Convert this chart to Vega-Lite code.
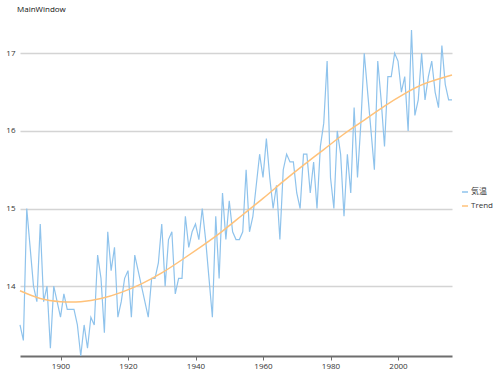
{
  "$schema": "https://vega.github.io/schema/vega-lite/v6.json",
  "width": 432,
  "height": 326,
  "autosize": {"type": "none"},
  "padding": {"left": 20, "top": 30, "right": 48, "bottom": 21},
  "background": "white",
  "title": {
    "text": "MainWindow",
    "anchor": "start",
    "frame": "group",
    "offset": 14,
    "dx": -3,
    "fontSize": 8,
    "fontWeight": "normal",
    "font": "Segoe UI, Open Sans, sans-serif",
    "color": "#111111"
  },
  "config": {
    "view": {"stroke": null},
    "font": "Segoe UI, Open Sans, Noto Sans CJK JP, sans-serif"
  },
  "datasets": {
    "temp": [
      {"year": 1888, "value": 13.5, "series": "気温"},
      {"year": 1889, "value": 13.3, "series": "気温"},
      {"year": 1890, "value": 15.0, "series": "気温"},
      {"year": 1891, "value": 14.5, "series": "気温"},
      {"year": 1892, "value": 14.0, "series": "気温"},
      {"year": 1893, "value": 13.8, "series": "気温"},
      {"year": 1894, "value": 14.8, "series": "気温"},
      {"year": 1895, "value": 13.8, "series": "気温"},
      {"year": 1896, "value": 14.0, "series": "気温"},
      {"year": 1897, "value": 13.2, "series": "気温"},
      {"year": 1898, "value": 14.0, "series": "気温"},
      {"year": 1899, "value": 13.8, "series": "気温"},
      {"year": 1900, "value": 13.6, "series": "気温"},
      {"year": 1901, "value": 13.9, "series": "気温"},
      {"year": 1902, "value": 13.7, "series": "気温"},
      {"year": 1903, "value": 13.7, "series": "気温"},
      {"year": 1904, "value": 13.7, "series": "気温"},
      {"year": 1905, "value": 13.5, "series": "気温"},
      {"year": 1906, "value": 13.1, "series": "気温"},
      {"year": 1907, "value": 13.5, "series": "気温"},
      {"year": 1908, "value": 13.2, "series": "気温"},
      {"year": 1909, "value": 13.6, "series": "気温"},
      {"year": 1910, "value": 13.5, "series": "気温"},
      {"year": 1911, "value": 14.4, "series": "気温"},
      {"year": 1912, "value": 14.1, "series": "気温"},
      {"year": 1913, "value": 13.4, "series": "気温"},
      {"year": 1914, "value": 14.7, "series": "気温"},
      {"year": 1915, "value": 14.2, "series": "気温"},
      {"year": 1916, "value": 14.5, "series": "気温"},
      {"year": 1917, "value": 13.6, "series": "気温"},
      {"year": 1918, "value": 13.8, "series": "気温"},
      {"year": 1919, "value": 14.1, "series": "気温"},
      {"year": 1920, "value": 14.2, "series": "気温"},
      {"year": 1921, "value": 13.6, "series": "気温"},
      {"year": 1922, "value": 14.4, "series": "気温"},
      {"year": 1923, "value": 14.2, "series": "気温"},
      {"year": 1924, "value": 14.0, "series": "気温"},
      {"year": 1925, "value": 13.8, "series": "気温"},
      {"year": 1926, "value": 13.6, "series": "気温"},
      {"year": 1927, "value": 14.1, "series": "気温"},
      {"year": 1928, "value": 14.1, "series": "気温"},
      {"year": 1929, "value": 14.3, "series": "気温"},
      {"year": 1930, "value": 14.8, "series": "気温"},
      {"year": 1931, "value": 14.0, "series": "気温"},
      {"year": 1932, "value": 14.6, "series": "気温"},
      {"year": 1933, "value": 14.7, "series": "気温"},
      {"year": 1934, "value": 13.9, "series": "気温"},
      {"year": 1935, "value": 14.1, "series": "気温"},
      {"year": 1936, "value": 14.1, "series": "気温"},
      {"year": 1937, "value": 14.9, "series": "気温"},
      {"year": 1938, "value": 14.5, "series": "気温"},
      {"year": 1939, "value": 14.7, "series": "気温"},
      {"year": 1940, "value": 14.8, "series": "気温"},
      {"year": 1941, "value": 14.6, "series": "気温"},
      {"year": 1942, "value": 15.0, "series": "気温"},
      {"year": 1943, "value": 14.6, "series": "気温"},
      {"year": 1944, "value": 14.1, "series": "気温"},
      {"year": 1945, "value": 13.6, "series": "気温"},
      {"year": 1946, "value": 14.9, "series": "気温"},
      {"year": 1947, "value": 14.1, "series": "気温"},
      {"year": 1948, "value": 15.2, "series": "気温"},
      {"year": 1949, "value": 14.6, "series": "気温"},
      {"year": 1950, "value": 15.1, "series": "気温"},
      {"year": 1951, "value": 14.7, "series": "気温"},
      {"year": 1952, "value": 14.6, "series": "気温"},
      {"year": 1953, "value": 14.6, "series": "気温"},
      {"year": 1954, "value": 14.7, "series": "気温"},
      {"year": 1955, "value": 15.5, "series": "気温"},
      {"year": 1956, "value": 14.7, "series": "気温"},
      {"year": 1957, "value": 14.9, "series": "気温"},
      {"year": 1958, "value": 15.3, "series": "気温"},
      {"year": 1959, "value": 15.7, "series": "気温"},
      {"year": 1960, "value": 15.4, "series": "気温"},
      {"year": 1961, "value": 15.9, "series": "気温"},
      {"year": 1962, "value": 15.4, "series": "気温"},
      {"year": 1963, "value": 15.0, "series": "気温"},
      {"year": 1964, "value": 15.3, "series": "気温"},
      {"year": 1965, "value": 14.6, "series": "気温"},
      {"year": 1966, "value": 15.5, "series": "気温"},
      {"year": 1967, "value": 15.7, "series": "気温"},
      {"year": 1968, "value": 15.6, "series": "気温"},
      {"year": 1969, "value": 15.6, "series": "気温"},
      {"year": 1970, "value": 15.2, "series": "気温"},
      {"year": 1971, "value": 15.0, "series": "気温"},
      {"year": 1972, "value": 15.7, "series": "気温"},
      {"year": 1973, "value": 15.7, "series": "気温"},
      {"year": 1974, "value": 15.2, "series": "気温"},
      {"year": 1975, "value": 15.6, "series": "気温"},
      {"year": 1976, "value": 15.0, "series": "気温"},
      {"year": 1977, "value": 15.8, "series": "気温"},
      {"year": 1978, "value": 16.1, "series": "気温"},
      {"year": 1979, "value": 16.9, "series": "気温"},
      {"year": 1980, "value": 15.4, "series": "気温"},
      {"year": 1981, "value": 15.0, "series": "気温"},
      {"year": 1982, "value": 16.0, "series": "気温"},
      {"year": 1983, "value": 15.7, "series": "気温"},
      {"year": 1984, "value": 14.9, "series": "気温"},
      {"year": 1985, "value": 15.7, "series": "気温"},
      {"year": 1986, "value": 15.2, "series": "気温"},
      {"year": 1987, "value": 16.3, "series": "気温"},
      {"year": 1988, "value": 15.4, "series": "気温"},
      {"year": 1989, "value": 16.1, "series": "気温"},
      {"year": 1990, "value": 17.0, "series": "気温"},
      {"year": 1991, "value": 16.5, "series": "気温"},
      {"year": 1992, "value": 16.0, "series": "気温"},
      {"year": 1993, "value": 15.5, "series": "気温"},
      {"year": 1994, "value": 16.9, "series": "気温"},
      {"year": 1995, "value": 16.4, "series": "気温"},
      {"year": 1996, "value": 15.8, "series": "気温"},
      {"year": 1997, "value": 16.7, "series": "気温"},
      {"year": 1998, "value": 16.7, "series": "気温"},
      {"year": 1999, "value": 17.0, "series": "気温"},
      {"year": 2000, "value": 16.9, "series": "気温"},
      {"year": 2001, "value": 16.5, "series": "気温"},
      {"year": 2002, "value": 16.7, "series": "気温"},
      {"year": 2003, "value": 16.0, "series": "気温"},
      {"year": 2004, "value": 17.3, "series": "気温"},
      {"year": 2005, "value": 16.2, "series": "気温"},
      {"year": 2006, "value": 16.4, "series": "気温"},
      {"year": 2007, "value": 17.0, "series": "気温"},
      {"year": 2008, "value": 16.4, "series": "気温"},
      {"year": 2009, "value": 16.7, "series": "気温"},
      {"year": 2010, "value": 16.9, "series": "気温"},
      {"year": 2011, "value": 16.5, "series": "気温"},
      {"year": 2012, "value": 16.3, "series": "気温"},
      {"year": 2013, "value": 17.1, "series": "気温"},
      {"year": 2014, "value": 16.6, "series": "気温"},
      {"year": 2015, "value": 16.4, "series": "気温"},
      {"year": 2016, "value": 16.4, "series": "気温"}
    ],
    "trend": [
      {"year": 1888, "value": 13.94, "series": "Trend"},
      {"year": 1894, "value": 13.84, "series": "Trend"},
      {"year": 1900, "value": 13.80, "series": "Trend"},
      {"year": 1906, "value": 13.80, "series": "Trend"},
      {"year": 1912, "value": 13.84, "series": "Trend"},
      {"year": 1918, "value": 13.92, "series": "Trend"},
      {"year": 1924, "value": 14.03, "series": "Trend"},
      {"year": 1930, "value": 14.17, "series": "Trend"},
      {"year": 1936, "value": 14.34, "series": "Trend"},
      {"year": 1942, "value": 14.52, "series": "Trend"},
      {"year": 1948, "value": 14.71, "series": "Trend"},
      {"year": 1954, "value": 14.92, "series": "Trend"},
      {"year": 1960, "value": 15.13, "series": "Trend"},
      {"year": 1966, "value": 15.35, "series": "Trend"},
      {"year": 1972, "value": 15.56, "series": "Trend"},
      {"year": 1978, "value": 15.76, "series": "Trend"},
      {"year": 1984, "value": 15.96, "series": "Trend"},
      {"year": 1990, "value": 16.14, "series": "Trend"},
      {"year": 1996, "value": 16.32, "series": "Trend"},
      {"year": 2002, "value": 16.48, "series": "Trend"},
      {"year": 2008, "value": 16.61, "series": "Trend"},
      {"year": 2016, "value": 16.72, "series": "Trend"}
    ]
  },
  "encoding": {
    "x": {
      "field": "year",
      "type": "quantitative",
      "scale": {"domain": [1888, 2016], "nice": false, "zero": false},
      "axis": {
        "title": null,
        "values": [1900, 1920, 1940, 1960, 1980, 2000],
        "format": "d",
        "grid": false,
        "domainColor": "#6e6e6e",
        "domainWidth": 2,
        "tickColor": "#6e6e6e",
        "tickSize": 4,
        "tickWidth": 1,
        "labelFontSize": 8,
        "labelColor": "#333333",
        "labelPadding": 2,
        "labelFont": "Segoe UI, Open Sans, sans-serif"
      }
    },
    "y": {
      "field": "value",
      "type": "quantitative",
      "scale": {"domain": [13.1, 17.3], "nice": false, "zero": false},
      "axis": {
        "title": null,
        "values": [14, 15, 16, 17],
        "domain": false,
        "ticks": false,
        "grid": true,
        "gridColor": "#d4d4d4",
        "gridWidth": 1.5,
        "labelFontSize": 8,
        "labelColor": "#333333",
        "labelPadding": 5,
        "labelFont": "Segoe UI, Open Sans, sans-serif"
      }
    },
    "color": {
      "field": "series",
      "type": "nominal",
      "scale": {"domain": ["気温", "Trend"], "range": ["#8fc3ec", "#ffc27a"]},
      "legend": {
        "title": null,
        "orient": "none",
        "legendX": 441,
        "legendY": 158,
        "symbolType": "stroke",
        "symbolSize": 36,
        "symbolStrokeWidth": 1.5,
        "labelFontSize": 8,
        "labelColor": "#333333",
        "labelOffset": 2,
        "rowPadding": 6,
        "labelFont": "Segoe UI, Open Sans, Noto Sans CJK JP, sans-serif"
      }
    }
  },
  "layer": [
    {
      "data": {"name": "temp"},
      "mark": {"type": "line", "strokeWidth": 1.2, "interpolate": "linear"}
    },
    {
      "data": {"name": "trend"},
      "mark": {"type": "line", "strokeWidth": 1.5, "interpolate": "natural"}
    }
  ]
}
